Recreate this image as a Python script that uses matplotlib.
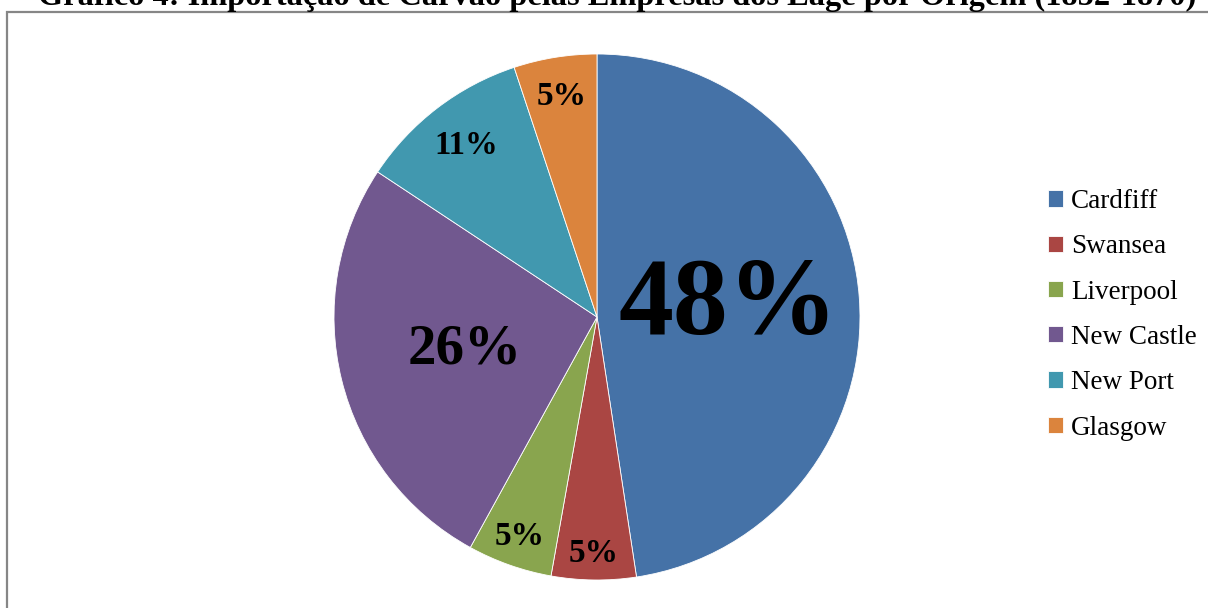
import numpy as np
import matplotlib.pyplot as plt
from matplotlib.patches import Rectangle

# data (share of imports, %)
origins = ['Cardfiff', 'Swansea', 'Liverpool', 'New Castle', 'New Port', 'Glasgow']
shares = [47.6, 5.2, 5.2, 26.3, 10.6, 5.1]
colors = ['#4572A7', '#AA4643', '#89A54E', '#71588F', '#4198AF', '#DB843D']

# label style per slice
label_sizes = [79, 24, 24, 41, 23.5, 24]
label_dist = [0.50, 0.90, 0.885, 0.52, 0.82, 0.85]

plt.rcParams['font.family'] = ['Liberation Serif', 'DejaVu Serif']

W, H = 1208, 608
fig = plt.figure(figsize=(W / 100, H / 100), dpi=100)

# chart frame
fig.patches.append(Rectangle((7.5 / W, -0.1), (1220 - 7.5) / W, 1.1 - 12.5 / H,
                             transform=fig.transFigure, fill=False,
                             edgecolor='#868686', linewidth=1.6))

# title (partly cut off at the top, as in the original)
fig.text(617 / W, 1 - 5 / H,
         'Gráfico 4: Importação de Carvão pelas Empresas dos Lage por Origem (1852-1870)',
         ha='center', va='baseline', fontsize=23.3, fontweight='bold')

cx, cy, r = 597, 317, 263
ax = fig.add_axes([(cx - r) / W, (H - cy - r) / H, 2 * r / W, 2 * r / H])
wedges, _ = ax.pie(shares, colors=colors, startangle=90, counterclock=False,
                   radius=1, wedgeprops=dict(edgecolor='white', linewidth=0.6))
ax.set_xlim(-1, 1)
ax.set_ylim(-1, 1)
ax.set_aspect('equal')
ax.axis('off')

total = sum(shares)
for w, v, s, d in zip(wedges, shares, label_sizes, label_dist):
    ang = np.deg2rad((w.theta1 + w.theta2) / 2)
    ax.text(d * np.cos(ang), d * np.sin(ang), f'{round(v / total * 100):.0f}%',
            ha='center', va='center', fontsize=s, fontweight='bold')

fig.legend(wedges, origins, loc='upper left',
           bbox_to_anchor=(1029 / W, 1 - 170 / H), frameon=False,
           fontsize=19.5, handlelength=0.55, handleheight=0.55, handletextpad=0.3,
           labelspacing=0.75, borderpad=0.2)

fig.savefig('out.png', dpi=100)
